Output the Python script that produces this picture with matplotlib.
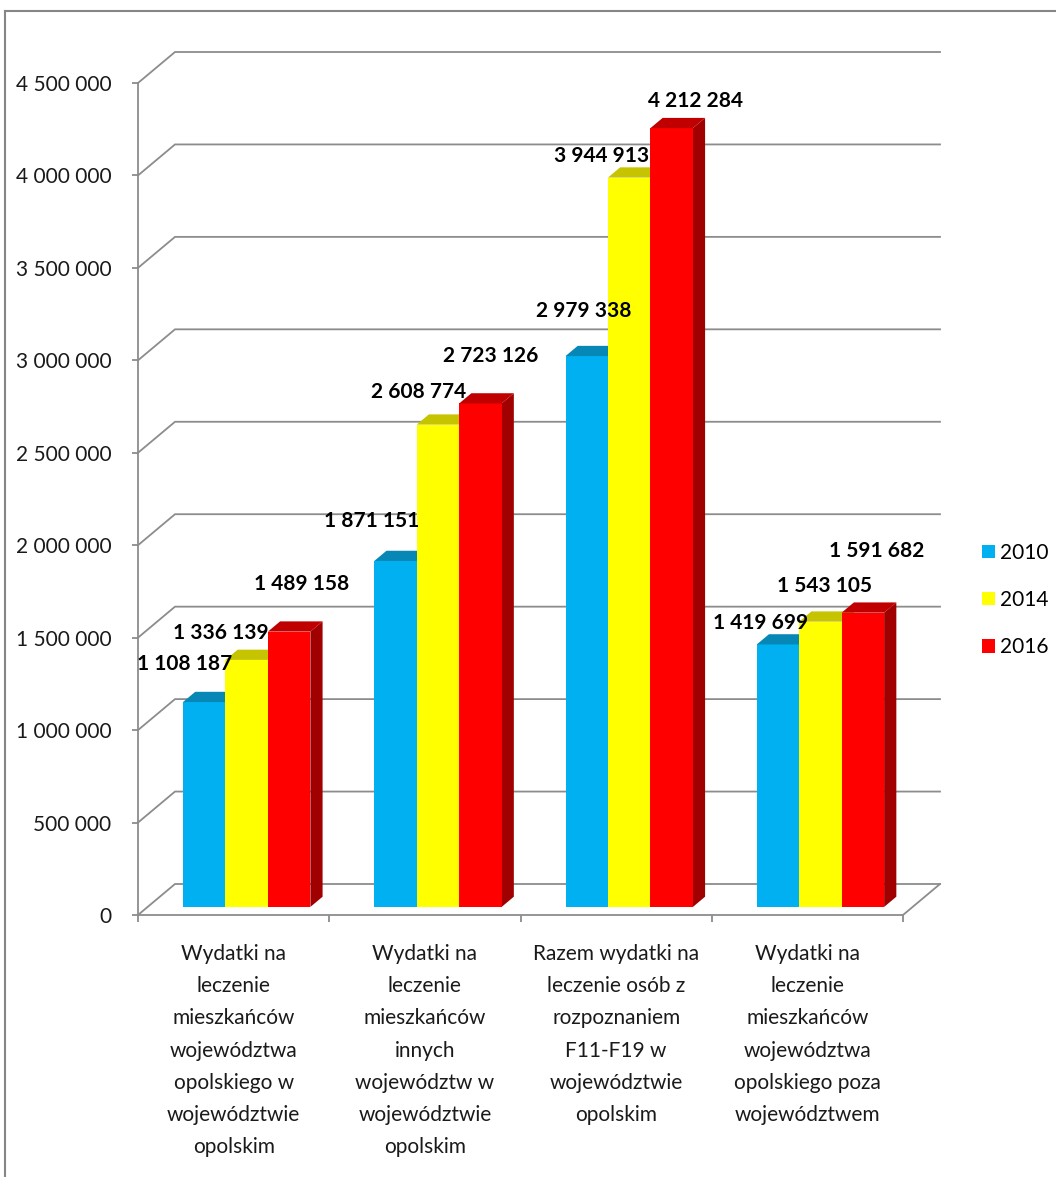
import matplotlib
matplotlib.use('Agg')
import matplotlib.pyplot as plt
from matplotlib.patches import Polygon, Patch
from matplotlib.lines import Line2D

plt.rcParams['font.family'] = ['Lato', 'DejaVu Sans']

categories = [
    'Wydatki na\nleczenie\nmieszkańców\nwojewództwa\nopolskiego w\nwojewództwie\nopolskim',
    'Wydatki na\nleczenie\nmieszkańców\ninnych\nwojewództw w\nwojewództwie\nopolskim',
    'Razem wydatki na\nleczenie osób z\nrozpoznaniem\nF11-F19 w\nwojewództwie\nopolskim',
    'Wydatki na\nleczenie\nmieszkańców\nwojewództwa\nopolskiego poza\nwojewództwem',
]
years = ['2010', '2014', '2016']
values_2010 = [1108187, 1871151, 2979338, 1419699]
values_2014 = [1336139, 2608774, 3944913, 1543105]
values_2016 = [1489158, 2723126, 4212284, 1591682]
y_ticks = [0, 500000, 1000000, 1500000, 2000000, 2500000, 3000000, 3500000, 4000000, 4500000]

series = [values_2010, values_2014, values_2016]
front_colors = ['#00B0F0', '#FFFF00', '#FF0000']
top_colors = ['#0787B6', '#C6C300', '#C00000']
side_colors = ['#0070A0', '#A8A600', '#A00000']

# label offsets (pixels) from the top-front centre of each bar, Excel places them oddly
label_offsets = [
    [(-20, 38), (-24, 40), (-3, 45), (-17, 21)],
    [(-26, 27), (-19, 33), (-28, 22), (4, 36)],
    [(12, 48), (10, 47), (24, 27), (14, 62)],
]

GRID = '#8c8c8c'
FS = 15
DX = 0.1935      # depth of the wall, in category units
DY = 167700      # depth of the wall, in value units
F0, F1 = 0.26, 0.59   # bar front / back as fraction of the depth
BAR_W = 0.222
GROUP_START = 0.185

fig = plt.figure(figsize=(10.56, 11.77), dpi=100)
ax = fig.add_axes([138 / 1056, (1177 - 915) / 1177, 765 / 1056, 832 / 1177])
ax.set_xlim(0, 4)
ax.set_ylim(0, 4500000)
ax.patch.set_alpha(0)

# back wall and side wall grid
for v in y_ticks:
    ax.plot([0, DX, 4 + DX], [v, v + DY, v + DY], color=GRID, lw=1.3,
            clip_on=False, zorder=1, solid_joinstyle='miter')
ax.plot([4, 4 + DX], [0, DY], color=GRID, lw=1.3, clip_on=False, zorder=1)

# 3d bars
for i in range(len(categories)):
    for k, vals in enumerate(series):
        v = vals[i]
        x0 = i + GROUP_START + k * BAR_W
        fx, fy = x0 + F0 * DX, F0 * DY
        bx, by = x0 + F1 * DX, F1 * DY
        side = Polygon([(fx + BAR_W, fy), (bx + BAR_W, by), (bx + BAR_W, by + v), (fx + BAR_W, fy + v)],
                       closed=True, facecolor=side_colors[k], edgecolor='none', zorder=3, clip_on=False)
        front = Polygon([(fx, fy), (fx + BAR_W, fy), (fx + BAR_W, fy + v), (fx, fy + v)],
                        closed=True, facecolor=front_colors[k], edgecolor='none', zorder=3, clip_on=False)
        top = Polygon([(fx, fy + v), (fx + BAR_W, fy + v), (bx + BAR_W, by + v), (bx, by + v)],
                      closed=True, facecolor=top_colors[k], edgecolor='none', zorder=3, clip_on=False)
        for p in (side, front, top):
            ax.add_patch(p)
        ox, oy = label_offsets[k][i]
        ax.annotate(f'{v:,}'.replace(',', ' '), (fx + BAR_W / 2, fy + v), xytext=(ox, oy),
                    textcoords='offset pixels', ha='center', va='center', fontsize=FS,
                    fontweight='bold', color='black', zorder=5, annotation_clip=False)

# axes
for s in ['top', 'right']:
    ax.spines[s].set_visible(False)
ax.spines['left'].set_color(GRID)
ax.spines['bottom'].set_color(GRID)
ax.spines['left'].set_linewidth(1.3)
ax.spines['bottom'].set_linewidth(1.3)
ax.set_yticks(y_ticks)
ax.set_yticklabels([f'{v:,}'.replace(',', ' ') for v in y_ticks])
ax.tick_params(axis='y', direction='out', length=4, width=1.3, color=GRID,
               labelsize=FS, labelcolor='#1a1a1a', pad=15)
ax.set_xticks([0, 1, 2, 3, 4])
ax.set_xticklabels([])
ax.tick_params(axis='x', which='major', direction='out', length=5, width=1.3, color=GRID)
ax.set_xticks([0.5, 1.5, 2.5, 3.5], minor=True)
ax.set_xticklabels(categories, minor=True, fontsize=FS, color='#1a1a1a', linespacing=1.76,
                   va='top')
ax.tick_params(axis='x', which='minor', length=0, pad=21)

handles = [Patch(facecolor=c, edgecolor='none') for c in front_colors]
fig.legend(handles, years, loc='upper left', bbox_to_anchor=(963 / 1056, 1 - 524 / 1177),
           frameon=False, fontsize=FS, handlelength=0.62, handleheight=0.62,
           handletextpad=0.25, labelspacing=1.31)

# outer chart frame
fig.add_artist(Line2D([4.5 / 1056, 1], [1 - 11 / 1177, 1 - 11 / 1177], color='#868686', lw=1.5))
fig.add_artist(Line2D([4.5 / 1056, 4.5 / 1056], [0, 1 - 11 / 1177], color='#868686', lw=1.5))

fig.savefig('out.png', dpi=100)
